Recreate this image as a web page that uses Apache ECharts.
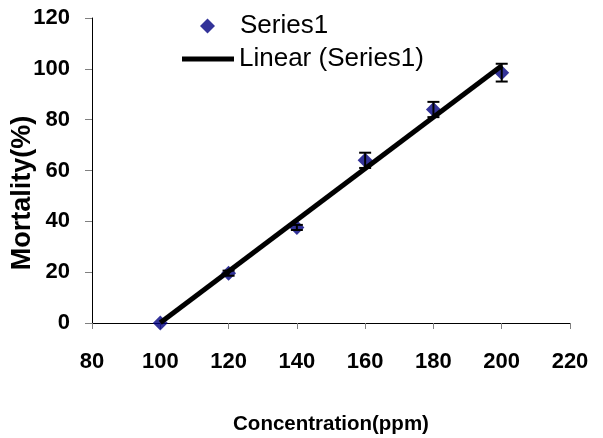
<!DOCTYPE html>
<html><head><meta charset="utf-8">
<script src="https://cdn.jsdelivr.net/npm/echarts@6/dist/echarts.min.js"></script>
<style>html,body{margin:0;padding:0;background:#fff}#c{width:603px;height:438px}</style>
</head><body><div id="c"></div>
<script>
var concentration = [100, 120, 140, 160, 180, 200];
var mortality = [0, 19.6, 37.6, 64, 84, 98.5];
var errorSize = [0, 1, 1, 3, 3, 3.5];
var trendX = [100, 200];
var trendY = [0.1, 101.2];
var xTicks = {min: 80, max: 220, interval: 20};
var yTicks = {min: 0, max: 120, interval: 20};

var font = 'Liberation Sans, Arial, sans-serif';
var scatterData = concentration.map(function (x, i) { return [x, mortality[i]]; });
var errData = concentration.map(function (x, i) { return [x, mortality[i] - errorSize[i], mortality[i] + errorSize[i]]; });
var trendData = trendX.map(function (x, i) { return [x, trendY[i]]; });

var chart = echarts.init(document.getElementById('c'));
chart.setOption({
  backgroundColor: '#fff',
  animation: false,
  textStyle: {fontFamily: font},
  grid: {left: 92, right: 33, top: 18, bottom: 115, containLabel: false, outerBoundsMode: 'none'},
  legend: [
    {data: ['Series1'], left: 200, top: 13, padding: 0, orient: 'vertical',
     icon: 'diamond', itemWidth: 15, itemHeight: 15,
     textStyle: {fontFamily: font, fontSize: 26, color: '#000', lineHeight: 26, padding: [0, 0, 0, 20]}},
    {data: ['Linear (Series1)'], left: 182, top: 46, padding: 0, orient: 'vertical',
     icon: 'rect', itemWidth: 52, itemHeight: 5,
     textStyle: {fontFamily: font, fontSize: 26, color: '#000', lineHeight: 26}}
  ],
  xAxis: {
    type: 'value', min: xTicks.min, max: xTicks.max, interval: xTicks.interval,
    name: 'Concentration(ppm)', nameLocation: 'middle', nameGap: 91, nameMoveOverlap: false,
    nameTextStyle: {fontFamily: font, fontSize: 20.5, fontWeight: 'bold', color: '#000'},
    axisLine: {show: true, onZero: false, lineStyle: {color: '#000', width: 1}},
    axisTick: {show: true, inside: false, length: 6, lineStyle: {color: '#808080'}},
    axisLabel: {fontFamily: font, fontSize: 22, fontWeight: 'bold', color: '#000', margin: 28},
    splitLine: {show: false}
  },
  yAxis: {
    type: 'value', min: yTicks.min, max: yTicks.max, interval: yTicks.interval,
    name: 'Mortality(%)', nameLocation: 'middle', nameGap: 69, nameMoveOverlap: false,
    nameTextStyle: {fontFamily: font, fontSize: 27, fontWeight: 'bold', color: '#000',
      align: 'center', verticalAlign: 'middle', padding: [0, 45, 0, 0]},
    axisLine: {show: true, lineStyle: {color: '#000', width: 1}},
    axisTick: {show: true, inside: false, length: 7, lineStyle: {color: '#808080'}},
    axisLabel: {fontFamily: font, fontSize: 22, fontWeight: 'bold', color: '#000', margin: 22},
    splitLine: {show: false}
  },
  series: [
    {
      name: 'Linear (Series1)', type: 'line', data: trendData, showSymbol: false, symbol: 'none',
      lineStyle: {color: '#000', width: 5}, itemStyle: {color: '#000'}, z: 3
    },
    {
      name: 'Series1', type: 'scatter', data: scatterData, symbol: 'diamond', symbolSize: 15,
      itemStyle: {color: '#000080'}, z: 2
    },
    {
      name: 'err', type: 'custom', data: errData, z: 4,
      renderItem: function (params, api) {
        var x = api.value(0);
        var lo = api.coord([x, api.value(1)]);
        var hi = api.coord([x, api.value(2)]);
        if (Math.abs(hi[1] - lo[1]) < 0.5) return null;
        var w = 6;
        var style = {stroke: '#000', lineWidth: 2};
        return {type: 'group', children: [
          {type: 'line', shape: {x1: lo[0], y1: lo[1], x2: hi[0], y2: hi[1]}, style: style},
          {type: 'line', shape: {x1: lo[0] - w, y1: lo[1], x2: lo[0] + w, y2: lo[1]}, style: style},
          {type: 'line', shape: {x1: hi[0] - w, y1: hi[1], x2: hi[0] + w, y2: hi[1]}, style: style}
        ]};
      }
    }
  ]
});
</script></body></html>
